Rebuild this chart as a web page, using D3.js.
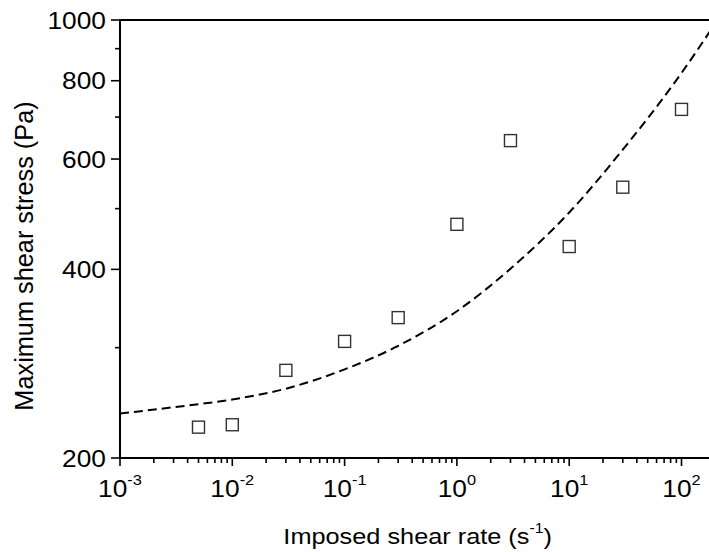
<!DOCTYPE html>
<html>
<head>
<meta charset="utf-8">
<script src="https://cdn.jsdelivr.net/npm/d3@7"></script>
<style>
  html, body { margin: 0; padding: 0; background: #fff; }
  svg { display: block; }
  text { font-family: "Liberation Sans", Arial, sans-serif; fill: #000; }
</style>
</head>
<body>
<svg id="chart" width="709" height="552"></svg>
<script>
// ---- data ----
const shearRates = [0.005, 0.01, 0.03, 0.1, 0.3, 1, 3, 10, 30, 100];
const maxStress  = [224, 226, 276, 307, 335, 472, 642, 435, 541, 720];

const fitRates  = [0.001, 0.003, 0.01, 0.03, 0.1, 0.3, 1, 3, 10, 30, 100, 200];
const fitStress = [235.5, 241, 248, 258, 277, 302, 343, 401, 493, 621, 823, 988];

const xMajorTicks = [1e-3, 1e-2, 1e-1, 1, 10, 100];
const xTickExponents = ["-3", "-2", "-1", "0", "1", "2"];
const yMajorTicks = [200, 400, 600, 800, 1000];
const yMinorTicks = [300, 500, 700, 900];

const xTitle = "Imposed shear rate (s";
const xTitleSup = "-1";
const yTitle = "Maximum shear stress (Pa)";

(function () {
  // ---- layout ----
  const svg = d3.select("#chart");
  const pl = 120, pt = 20, pb = 458;
  const decade = 112.3;
  const xDomain = [1e-3, 200];
  const pr = pl + Math.log10(xDomain[1] / xDomain[0]) * decade;

  const x = d3.scaleLog().domain(xDomain).range([pl, pr]);
  const y = d3.scaleLog().domain([200, 1000]).range([pb, pt]);

  const SX = 1.13; // horizontal glyph stretch seen in reference

  const xMinor = [];
  for (let p = -3; p <= 2; p++) {
    for (let m = 2; m <= 9; m++) {
      const v = m * Math.pow(10, p);
      if (v <= xDomain[1]) xMinor.push(v);
    }
  }

  svg.append("clipPath").attr("id", "plotclip")
    .append("rect").attr("x", pl).attr("y", pt).attr("width", pr - pl).attr("height", pb - pt);

  // fitted dashed curve
  const line = d3.line()
    .x((d, i) => x(fitRates[i]))
    .y((d, i) => y(fitStress[i]))
    .curve(d3.curveMonotoneX);
  svg.append("path")
    .datum(fitStress)
    .attr("d", line)
    .attr("clip-path", "url(#plotclip)")
    .attr("fill", "none")
    .attr("stroke", "#000")
    .attr("stroke-width", 2)
    .attr("stroke-dasharray", "9,5");

  // squares
  const sq = 12;
  svg.append("g").selectAll("rect")
    .data(maxStress)
    .join("rect")
    .attr("x", (d, i) => x(shearRates[i]) - sq / 2)
    .attr("y", d => y(d) - sq / 2)
    .attr("width", sq)
    .attr("height", sq)
    .attr("fill", "none")
    .attr("stroke", "#333")
    .attr("stroke-width", 1.4);

  // axes lines
  const axisG = svg.append("g").attr("stroke", "#000").attr("fill", "none");
  axisG.append("line").attr("x1", pl).attr("x2", pl).attr("y1", pt - 1).attr("y2", pb + 1).attr("stroke-width", 2);
  axisG.append("line").attr("x1", pl - 1).attr("x2", pr).attr("y1", pb).attr("y2", pb).attr("stroke-width", 2);
  axisG.append("line").attr("x1", pl - 1).attr("x2", pr).attr("y1", pt).attr("y2", pt).attr("stroke-width", 2);
  axisG.append("line").attr("x1", pr).attr("x2", pr).attr("y1", pt).attr("y2", pb).attr("stroke-width", 2);

  yMajorTicks.forEach(v => {
    axisG.append("line").attr("x1", pl - 9).attr("x2", pl).attr("y1", y(v)).attr("y2", y(v)).attr("stroke-width", 1.6);
  });
  yMinorTicks.forEach(v => {
    axisG.append("line").attr("x1", pl - 5).attr("x2", pl).attr("y1", y(v)).attr("y2", y(v)).attr("stroke-width", 1.6);
  });
  xMajorTicks.forEach(v => {
    axisG.append("line").attr("x1", x(v)).attr("x2", x(v)).attr("y1", pb).attr("y2", pb + 8).attr("stroke-width", 1.6);
  });
  xMinor.forEach(v => {
    axisG.append("line").attr("x1", x(v)).attr("x2", x(v)).attr("y1", pb).attr("y2", pb + 5).attr("stroke-width", 1.6);
  });

  // y tick labels
  yMajorTicks.forEach(v => {
    svg.append("g").attr("transform", `translate(106,${y(v) + 8.6}) scale(${SX},1)`)
      .append("text").attr("text-anchor", "end").attr("font-size", 23.3).text(v);
  });

  // x tick labels
  xMajorTicks.forEach((v, i) => {
    const t = svg.append("g").attr("transform", `translate(${x(v)},${pb + 38.7}) scale(${SX},1)`)
      .append("text").attr("text-anchor", "middle").attr("font-size", 23.3);
    t.append("tspan").text("10");
    t.append("tspan").attr("dy", -11.5).attr("font-size", 14.5).text(xTickExponents[i]);
  });

  // x title
  const xt = svg.append("g").attr("transform", `translate(${(pl + pr) / 2},544.3) scale(${SX},1)`)
    .append("text").attr("text-anchor", "middle").attr("font-size", 22.4);
  xt.append("tspan").text(xTitle);
  xt.append("tspan").attr("dy", -11).attr("font-size", 14).text(xTitleSup);
  xt.append("tspan").attr("dy", 11).text(")");

  // y title
  svg.append("g").attr("transform", `translate(33.3,256) rotate(-90)`)
    .append("text").attr("text-anchor", "middle").attr("font-size", 25.3).text(yTitle);
})();
</script>
</body>
</html>
